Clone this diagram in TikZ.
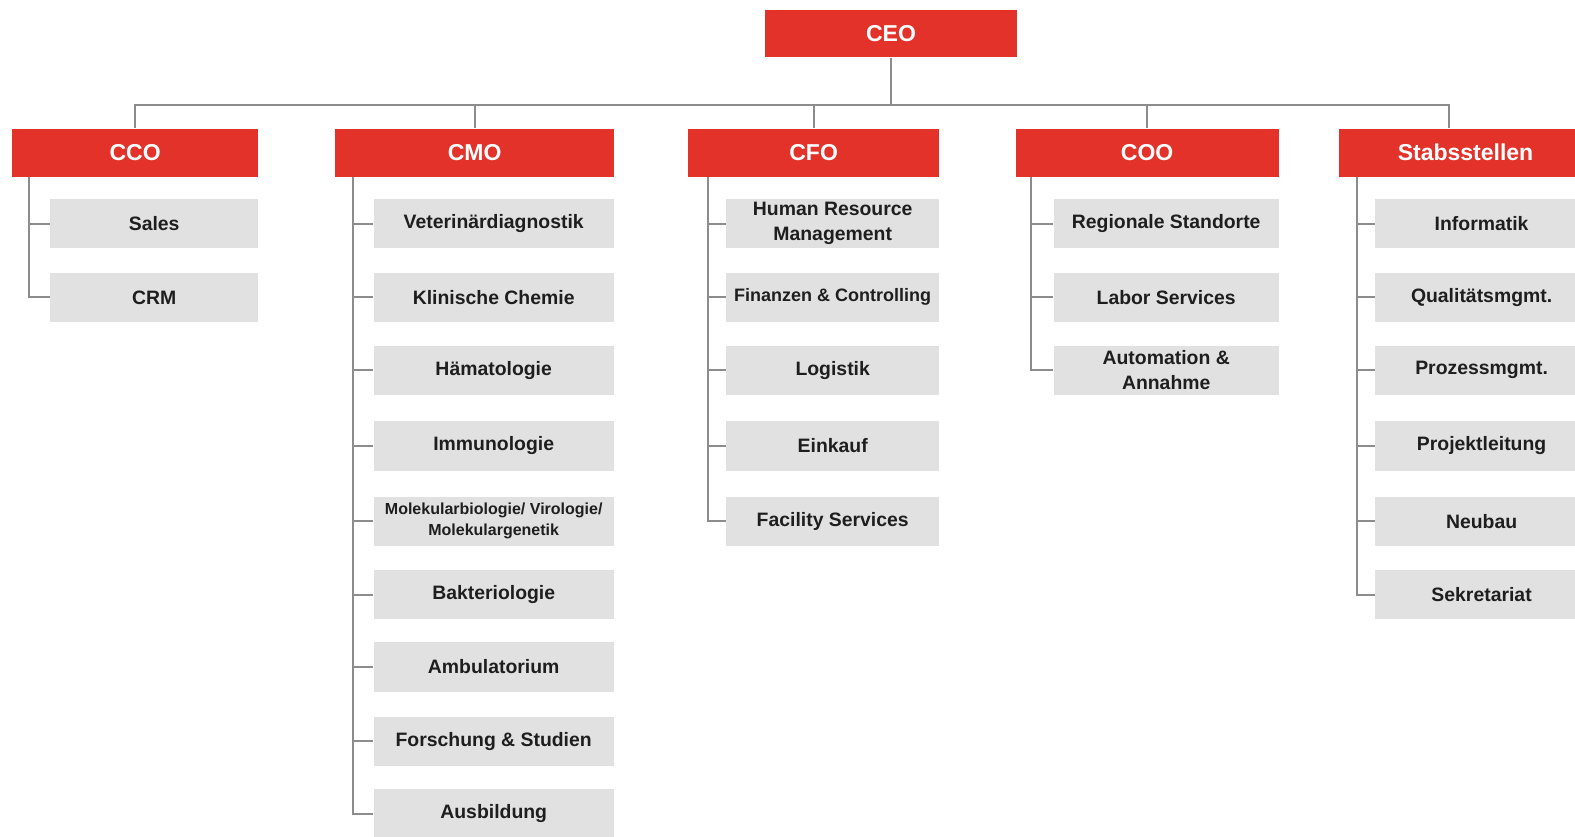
\documentclass[tikz,border=0pt]{standalone}
\usepackage{fontspec}
\setmainfont{Liberation Sans}
\newcommand\pxu{0.50225pt}
\definecolor{hred}{HTML}{E3322A}
\definecolor{boxgray}{HTML}{E1E1E1}
\definecolor{lgray}{HTML}{8C8C8C}
\definecolor{txt}{HTML}{1E1E1E}
\begin{document}
\begin{tikzpicture}[x=0.50225pt,y=-0.50225pt,
  head/.style={fill=hred, text=white, font=\fontsize{11.5}{13}\selectfont\bfseries, minimum height=48*\pxu, inner sep=0pt},
  gbox/.style={fill=boxgray, text=txt, font=\fontsize{9.7}{12.5}\selectfont\bfseries, minimum height=49*\pxu, inner sep=0pt, align=center},
  cco/.style={gbox, minimum width=207*\pxu},
  cmo/.style={gbox, minimum width=239*\pxu},
  cfo/.style={gbox, minimum width=212*\pxu},
  coo/.style={gbox, minimum width=224*\pxu},
  stb/.style={gbox, minimum width=212*\pxu},
  conn/.style={draw=lgray, line width=1pt}
]
\useasboundingbox[fill=white] (0,0) rectangle (1568,833);
% top
\node[head, minimum width=250*\pxu, minimum height=47*\pxu] (CEO) at (887,33.5) {CEO};
\node[head, minimum width=245*\pxu] (CCO) at (134.5,152) {CCO};
\node[head, minimum width=277*\pxu] (CMO) at (472.5,152) {CMO};
\node[head, minimum width=250*\pxu] (CFO) at (810,152) {CFO};
\node[head, minimum width=262*\pxu] (COO) at (1142,152) {COO};
\node[head, minimum width=252*\pxu] (STB) at (1459,152) {Stabsstellen};
\coordinate (bus) at (0,105);
\coordinate (stbtop) at ([xshift=-16*\pxu]STB.north);
% CCO
\node[cco] (c1) at (153.5,222.5) {Sales};
\node[cco] (c2) at (153.5,296) {CRM};
% CMO
\node[cmo] (m1) at (491.5,222.5) {Veterinärdiagnostik};
\node[cmo] (m2) at (491.5,296) {Klinische Chemie};
\node[cmo] (m3) at (491.5,368.5) {Hämatologie};
\node[cmo] (m4) at (491.5,444) {Immunologie};
\node[cmo, font=\fontsize{8}{10.5}\selectfont\bfseries] (m5) at (491.5,519) {Molekularbiologie/ Virologie/\\Molekulargenetik};
\node[cmo] (m6) at (491.5,592) {Bakteriologie};
\node[cmo] (m7) at (491.5,664) {Ambulatorium};
\node[cmo] (m8) at (491.5,738) {Forschung \& Studien};
\node[cmo] (m9) at (491.5,810) {Ausbildung};
% CFO
\node[cfo] (f1) at (829,222.5) {Human Resource\\Management};
\node[cfo, font=\fontsize{9}{12}\selectfont\bfseries] (f2) at (829,296) {Finanzen \& Controlling};
\node[cfo] (f3) at (829,368.5) {Logistik};
\node[cfo] (f4) at (829,444) {Einkauf};
\node[cfo] (f5) at (829,519) {Facility Services};
% COO
\node[coo] (o1) at (1161,222.5) {Regionale Standorte};
\node[coo] (o2) at (1161,296) {Labor Services};
\node[coo] (o3) at (1161,368.5) {Automation \&\\Annahme};
% Stabsstellen
\node[stb] (s1) at (1475,222.5) {Informatik};
\node[stb] (s2) at (1475,296) {Qualitätsmgmt.};
\node[stb] (s3) at (1475,368.5) {Prozessmgmt.};
\node[stb] (s4) at (1475,444) {Projektleitung};
\node[stb] (s5) at (1475,519) {Neubau};
\node[stb] (s6) at (1475,592) {Sekretariat};
% bus connectors
\draw[conn] (CEO.south) -- (CEO.south |- bus);
\draw[conn] (CCO.north) -- (CCO.north |- bus) -- (stbtop |- bus) -- (stbtop);
\draw[conn] (CMO.north) -- (CMO.north |- bus);
\draw[conn] (CFO.north) -- (CFO.north |- bus);
\draw[conn] (COO.north) -- (COO.north |- bus);
% trunks
\coordinate (tC) at ([xshift=17*\pxu]CCO.south west);
\coordinate (tM) at ([xshift=18*\pxu]CMO.south west);
\coordinate (tF) at ([xshift=20*\pxu]CFO.south west);
\coordinate (tO) at ([xshift=16*\pxu]COO.south west);
\coordinate (tS) at ([xshift=18*\pxu]STB.south west);
\draw[conn] (tC) |- (c2.west);
\draw[conn] (c1.west) -- (c1.west -| tC);
\draw[conn] (tM) |- (m9.west);
\foreach \n in {m1,m2,m3,m4,m5,m6,m7,m8} \draw[conn] (\n.west) -- (\n.west -| tM);
\draw[conn] (tF) |- (f5.west);
\foreach \n in {f1,f2,f3,f4} \draw[conn] (\n.west) -- (\n.west -| tF);
\draw[conn] (tO) |- (o3.west);
\foreach \n in {o1,o2} \draw[conn] (\n.west) -- (\n.west -| tO);
\draw[conn] (tS) |- (s6.west);
\foreach \n in {s1,s2,s3,s4,s5} \draw[conn] (\n.west) -- (\n.west -| tS);
\end{tikzpicture}
\end{document}
